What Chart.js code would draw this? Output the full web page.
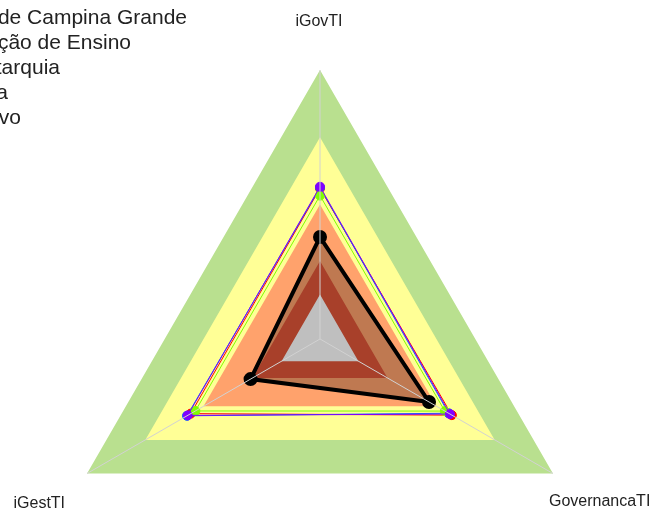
<!DOCTYPE html>
<html>
<head>
<meta charset="utf-8">
<script src="https://cdn.jsdelivr.net/npm/chart.js@4"></script>
<style>
  html, body { margin: 0; padding: 0; background: #fff; overflow: hidden; }
  #wrap { width: 652px; height: 620px; position: relative; }
</style>
</head>
<body>
<div id="wrap"><canvas id="chart" width="652" height="620"></canvas></div>
<script>
const axes = ['iGovTI', 'GovernancaTI', 'iGestTI'];

// faixas de referência (limite superior de cada faixa)
const bandLimits = [1.0, 0.75, 0.5, 0.29, 0.165];
const bandColors = ['#b9e08f', '#ffff96', '#ffa26c', '#e05638', '#ffffff'];

const seriesLabels = [
    'Universidade Federal de Campina Grande',
    'Instituição de Ensino',
    'Autarquia',
    'Média',
    'Poder Executivo',
];
const ufcg = [0.379, 0.468, 0.298];
const instEnsino = [0.560, 0.566, 0.555];
const autarquia = [0.563, 0.552, 0.571];
const media = [0.533, 0.536, 0.535];
const executivo = [0.566, 0.558, 0.568];
const seriesColors = ['#000000', '#ff0000', '#0070ff', '#80ff00', '#8000ff'];

// legend text right edges (cut at the left border as in the original)
const legendRight = [187, 131, 60, 8, 21];

const bandSets = bandLimits.map((v, i) => ({
    label: 'faixa' + i,
    data: axes.map(() => v),
    backgroundColor: bandColors[i],
    borderWidth: 0,
    pointRadius: 0,
    fill: 'origin',
    order: 100 - i,
}));

const seriesData = [ufcg, instEnsino, autarquia, media, executivo];
const seriesSets = seriesData.map((d, i) => ({
    label: seriesLabels[i],
    data: d,
    borderColor: seriesColors[i],
    backgroundColor: i === 0 ? 'rgba(0,0,0,0.25)' : seriesColors[i],
    pointBackgroundColor: seriesColors[i],
    pointBorderColor: seriesColors[i],
    borderWidth: i === 0 ? 4 : 1,
    pointRadius: i === 0 ? 5 : 4.5,
    fill: i === 0 ? 'origin' : false,
    order: 10 - i,
}));

const textPlugin = {
    id: 'texts',
    afterDraw(chart) {
        const ctx = chart.ctx;
        const scale = chart.scales.r;
        const R = scale.drawingArea;
        ctx.save();
        ctx.fillStyle = '#222';
        ctx.font = '16px "Liberation Sans", Arial, sans-serif';
        ctx.textBaseline = 'middle';
        let p = scale.getPointPosition(0, R);
        ctx.textAlign = 'center';
        ctx.fillText(axes[0], p.x - 1, p.y - 48);
        p = scale.getPointPosition(1, R);
        ctx.textAlign = 'left';
        ctx.fillText(axes[1], p.x - 4, p.y + 28);
        p = scale.getPointPosition(2, R);
        ctx.textAlign = 'right';
        ctx.fillText(axes[2], p.x - 22, p.y + 30);

        ctx.font = '21px "Liberation Sans", Arial, sans-serif';
        ctx.textAlign = 'right';
        ctx.textBaseline = 'alphabetic';
        seriesLabels.forEach((t, i) => {
            ctx.fillText(t, legendRight[i], 23.5 + i * 25);
        });
        ctx.restore();
    },
};

new Chart(document.getElementById('chart').getContext('2d'), {
    type: 'radar',
    data: {
        labels: axes,
        datasets: [...seriesSets, ...bandSets],
    },
    options: {
        responsive: false,
        animation: false,
        layout: {
            padding: { left: 51, right: 63, top: 70, bottom: 12 },
        },
        plugins: {
            legend: { display: false },
            tooltip: { enabled: false },
        },
        elements: {
            line: { tension: 0 },
        },
        scales: {
            r: {
                min: 0,
                max: 1,
                ticks: { display: false },
                grid: { display: false, z: 1 },
                angleLines: { color: '#d2d2d2', lineWidth: 1 },
                pointLabels: { display: false },
            },
        },
    },
    plugins: [textPlugin],
});
</script>
</body>
</html>
